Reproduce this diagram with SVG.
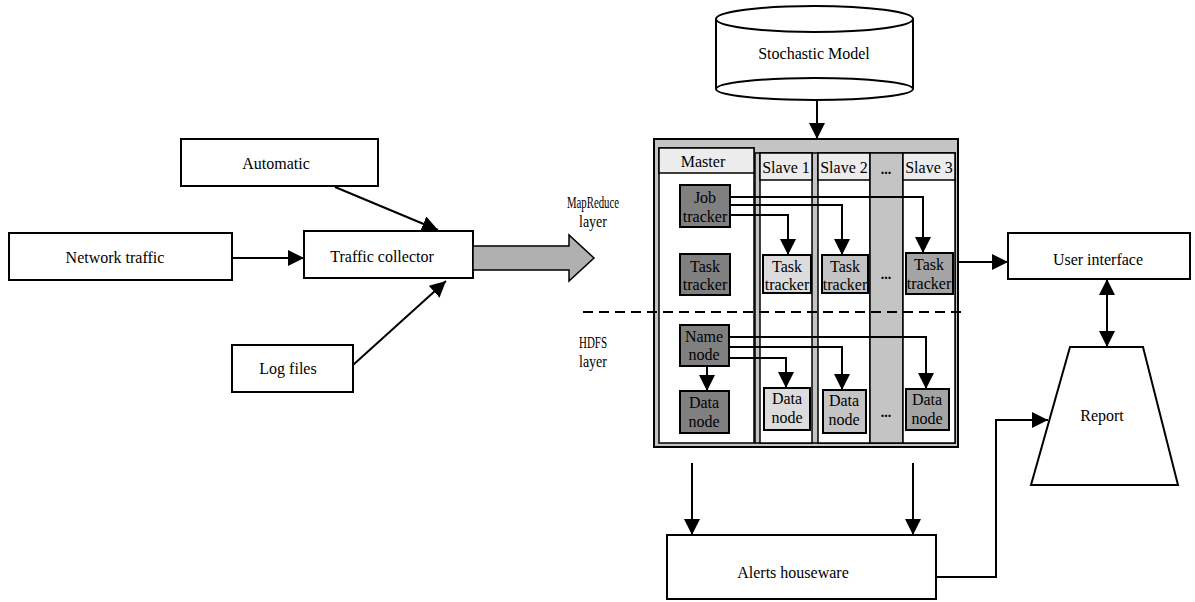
<svg xmlns="http://www.w3.org/2000/svg" width="1195" height="602" viewBox="0 0 1195 602">
<defs>
<marker id="ah" viewBox="0 0 16 16" refX="16" refY="8" markerWidth="16" markerHeight="16" markerUnits="userSpaceOnUse" orient="auto-start-reverse">
<path d="M0,0 L16,8 L0,16 Z" fill="#000"/>
</marker>
<style>
text{font-family:"Liberation Serif","Times New Roman",serif;font-size:16px;fill:#000;text-anchor:middle}
.box{fill:#fff;stroke:#000;stroke-width:2}
.ln{fill:none;stroke:#000;stroke-width:2}
.dk{fill:#808080;stroke:#000;stroke-width:2}
.l1{fill:#dcdcdc;stroke:#000;stroke-width:2}
.l2{fill:#c4c4c4;stroke:#000;stroke-width:2}
.l3{fill:#a4a4a4;stroke:#000;stroke-width:2}
.col{fill:#fff;stroke:#000;stroke-width:1.5}
.hdr{fill:#ececec;stroke:#000;stroke-width:1.5}
.dots{font-weight:bold;font-size:14px}
</style>
</defs>

<g id="automatic"><rect class="box" x="181" y="139" width="197" height="47"/><text x="276" y="169">Automatic</text></g>
<g id="network-traffic"><rect class="box" x="9" y="233" width="223" height="47"/><text x="115" y="263">Network traffic</text></g>
<g id="traffic-collector"><rect class="box" x="304" y="231" width="169" height="47"/><text x="382" y="262">Traffic collector</text></g>
<g id="log-files"><rect class="box" x="232" y="345" width="121" height="47"/><text x="288" y="374">Log files</text></g>

<g id="stochastic-model">
<path d="M716,19 V89 A98.5,11 0 0 0 913,89 V19 Z" fill="#fff" stroke="#000" stroke-width="2"/>
<ellipse cx="814.5" cy="19" rx="98.5" ry="13" fill="#fff" stroke="#000" stroke-width="2"/>
<path d="M716,89 A98.5,11 0 0 1 913,89" fill="none" stroke="#000" stroke-width="2"/>
<text x="814" y="59">Stochastic Model</text>
</g>

<g id="layer-labels">
<text x="593" y="208" textLength="52" lengthAdjust="spacingAndGlyphs" font-size="15">MapReduce</text>
<text x="593" y="227" font-size="15" textLength="28" lengthAdjust="spacingAndGlyphs">layer</text>
<text x="593" y="348" font-size="15" textLength="28" lengthAdjust="spacingAndGlyphs">HDFS</text>
<text x="593" y="367" font-size="15" textLength="28" lengthAdjust="spacingAndGlyphs">layer</text>
</g>

<g id="cluster">
<rect x="654" y="139" width="304" height="308" fill="#c4c4c4" stroke="#000" stroke-width="2"/>
<rect x="755" y="153" width="200" height="290" fill="#c4c4c4" stroke="#000" stroke-width="1.5"/>
<g id="master">
<rect class="col" x="659" y="148" width="95" height="295"/>
<rect class="hdr" x="659" y="148" width="95" height="25"/>
<text x="703" y="167">Master</text>
</g>
<g id="slave1">
<rect class="col" x="760" y="153" width="52" height="290"/>
<rect class="hdr" x="760" y="153" width="52" height="27"/>
<text x="786" y="173">Slave 1</text>
</g>
<g id="slave2">
<rect class="col" x="818" y="153" width="52" height="290"/>
<rect class="hdr" x="818" y="153" width="52" height="27"/>
<text x="844" y="173">Slave 2</text>
</g>
<g id="slave-more">
<rect x="870" y="153" width="33" height="290" fill="#c4c4c4" stroke="#000" stroke-width="1.5"/>
<text class="dots" x="886" y="174">...</text>
<text class="dots" x="886" y="279">...</text>
<text class="dots" x="886" y="417">...</text>
</g>
<g id="slave3">
<rect class="col" x="903" y="153" width="52" height="290"/>
<rect class="hdr" x="903" y="153" width="52" height="27"/>
<text x="929" y="173">Slave 3</text>
</g>

<g id="job-tracker"><rect class="dk" x="680" y="185" width="50" height="42"/><text x="705" y="203">Job</text><text x="705" y="222">tracker</text></g>
<g id="master-task-tracker"><rect class="dk" x="680" y="254" width="50" height="41"/><text x="705" y="272">Task</text><text x="705" y="290">tracker</text></g>
<g id="slave1-task-tracker"><rect class="l1" x="763" y="255" width="48" height="38"/><text x="787" y="272">Task</text><text x="787" y="290">tracker</text></g>
<g id="slave2-task-tracker"><rect class="l2" x="822" y="255" width="46" height="38"/><text x="845" y="272">Task</text><text x="845" y="290">tracker</text></g>
<g id="slave3-task-tracker"><rect class="l3" x="906" y="253" width="47" height="41"/><text x="929" y="270">Task</text><text x="929" y="289">tracker</text></g>

<g id="name-node"><rect class="dk" x="680" y="325" width="49" height="41"/><text x="704" y="342">Name</text><text x="704" y="360">node</text></g>
<g id="master-data-node"><rect class="dk" x="680" y="391" width="49" height="42"/><text x="704" y="408">Data</text><text x="704" y="427">node</text></g>
<g id="slave1-data-node"><rect class="l1" x="764" y="388" width="46" height="42"/><text x="787" y="404">Data</text><text x="787" y="423">node</text></g>
<g id="slave2-data-node"><rect class="l2" x="823" y="390" width="43" height="43"/><text x="844" y="406">Data</text><text x="844" y="425">node</text></g>
<g id="slave3-data-node"><rect class="l3" x="906" y="389" width="43" height="41"/><text x="927" y="405">Data</text><text x="927" y="424">node</text></g>
</g>

<g id="user-interface"><rect class="box" x="1008" y="233" width="182" height="46"/><text x="1098" y="265">User interface</text></g>
<g id="report"><polygon points="1070,347 1143,347 1178,485 1031,485" fill="#fff" stroke="#000" stroke-width="2"/><text x="1102" y="421">Report</text></g>
<g id="alerts-houseware"><rect class="box" x="667" y="535" width="269" height="64"/><text x="793" y="578">Alerts houseware</text></g>

<g id="connectors">
<line class="ln" x1="232" y1="258" x2="304" y2="258" marker-end="url(#ah)"/>
<line class="ln" x1="335" y1="187" x2="438" y2="230" marker-end="url(#ah)"/>
<line class="ln" x1="353" y1="365" x2="446" y2="281" marker-end="url(#ah)"/>
<polygon points="473,246 569,246 569,235 594,258 569,281 569,270 473,270" fill="#b0b0b0" stroke="#000" stroke-width="1.5"/>
<line class="ln" x1="817" y1="100" x2="817" y2="139" marker-end="url(#ah)"/>
<line x1="583" y1="312" x2="964" y2="312" stroke="#000" stroke-width="2" stroke-dasharray="10,6"/>
<polyline class="ln" points="730,197 923,197 923,253" marker-end="url(#ah)"/>
<polyline class="ln" points="730,205 842,205 842,255" marker-end="url(#ah)"/>
<polyline class="ln" points="730,215 788,215 788,255" marker-end="url(#ah)"/>
<polyline class="ln" points="729,337 926,337 926,389" marker-end="url(#ah)"/>
<polyline class="ln" points="729,347 842,347 842,390" marker-end="url(#ah)"/>
<polyline class="ln" points="729,358 786,358 786,388" marker-end="url(#ah)"/>
<line class="ln" x1="707" y1="366" x2="707" y2="391" marker-end="url(#ah)"/>
<line class="ln" x1="958" y1="262" x2="1008" y2="262" marker-end="url(#ah)"/>
<line class="ln" x1="1107" y1="279" x2="1107" y2="347" marker-start="url(#ah)" marker-end="url(#ah)"/>
<line class="ln" x1="692" y1="463" x2="692" y2="535" marker-end="url(#ah)"/>
<line class="ln" x1="913" y1="463" x2="913" y2="535" marker-end="url(#ah)"/>
<polyline class="ln" points="936,577 996,577 996,420 1048,420" marker-end="url(#ah)"/>
</g>
</svg>
